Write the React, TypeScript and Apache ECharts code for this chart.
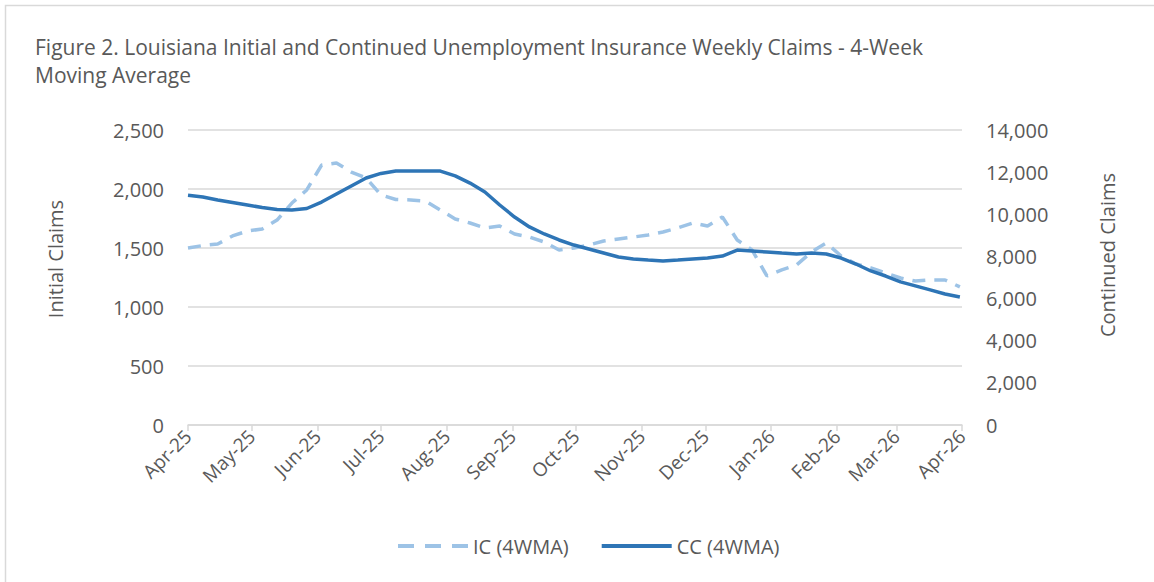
import React, { useEffect, useRef } from "react";
import * as echarts from "echarts";

// Weekly 4-week moving averages, first week ending 2025-04-05
const firstWeek = "2025-04-05";
const icValues = [
  1500, 1521, 1534, 1602, 1644, 1661, 1737, 1881, 1992, 2203, 2220, 2144, 2093, 1949,
  1911, 1907, 1898, 1822, 1746, 1712, 1670, 1686, 1619, 1593, 1551, 1483, 1500, 1525,
  1559, 1576, 1593, 1610, 1636, 1670, 1712, 1686, 1763, 1568, 1483, 1263, 1314, 1356,
  1466, 1542, 1432, 1364, 1331, 1288, 1246, 1220, 1229, 1229, 1170,
];
const ccValues = [
  10900, 10820, 10680, 10560, 10440, 10320, 10230, 10200, 10275, 10580, 10960, 11340,
  11720, 11940, 12050, 12055, 12055, 12050, 11820, 11480, 11060, 10440, 9870, 9400,
  9065, 8780, 8540, 8350, 8160, 7970, 7880, 7830, 7785, 7830, 7880, 7925, 8020, 8300,
  8260, 8210, 8160, 8115, 8160, 8115, 7925, 7640, 7310, 7070, 6790, 6600, 6410, 6220,
  6075,
];
const leftTicks = { min: 0, max: 2500, interval: 500 };
const rightTicks = { min: 0, max: 14000, interval: 2000 };
const monthNames = ["Jan", "Feb", "Mar", "Apr", "May", "Jun", "Jul", "Aug", "Sep", "Oct", "Nov", "Dec"];
const seriesNames = ["IC (4WMA)", "CC (4WMA)"];
const titleText =
  "Figure 2. Louisiana Initial and Continued Unemployment Insurance Weekly Claims - 4-Week\nMoving Average";

const DAY = 86400000;
const pad = (n: number) => (n < 10 ? "0" + n : "" + n);
const fmt = (t: number) => {
  const d = new Date(t);
  return `${d.getUTCFullYear()}-${pad(d.getUTCMonth() + 1)}-${pad(d.getUTCDate())}`;
};
const startMs = Date.parse(firstWeek + "T00:00:00Z");
const axisDays = Array.from({ length: 366 }, (_, i) => fmt(startMs + i * DAY));
const weekDates = icValues.map((_, k) => fmt(startMs + 7 * k * DAY));
const tickDay = firstWeek.slice(8);

const FONT = "'Open Sans', 'Noto Sans', sans-serif";
const GREY = "#595959";
const DASH_ICON = "path://M0,0h16v4H0z M27,0h16v4H27z M54,0h16v4H54z";
const SOLID_ICON = "path://M0,0h70v4H0z";

export default function App() {
  const ref = useRef<HTMLDivElement>(null);
  useEffect(() => {
    document.body.style.margin = "0";
    const chart = echarts.init(ref.current!, null, { renderer: "svg" });
    const isTick = (_i: number, v: string) => v.slice(8) === tickDay;
    chart.setOption({
      animation: false,
      backgroundColor: "#ffffff",
      textStyle: { fontFamily: FONT },
      title: {
        text: titleText,
        left: 30,
        top: 28,
        textStyle: { fontSize: 21, fontWeight: "normal", color: GREY, lineHeight: 28, fontFamily: FONT },
      },
      graphic: [
        {
          type: "rect",
          shape: { x: 5.5, y: 5.5, width: 1300, height: 800 },
          style: { fill: "none", stroke: "#d9d9d9", lineWidth: 1.5 },
          silent: true,
        },
        {
          type: "text",
          x: 55,
          y: 259,
          rotation: Math.PI / 2,
          style: { text: "Initial Claims", fontSize: 20, fontFamily: FONT, fill: GREY, align: "center", verticalAlign: "middle" },
        },
        {
          type: "text",
          x: 1107,
          y: 255,
          rotation: Math.PI / 2,
          style: { text: "Continued Claims", fontSize: 20, fontFamily: FONT, fill: GREY, align: "center", verticalAlign: "middle" },
        },
      ],
      legend: {
        data: [
          { name: seriesNames[0], icon: DASH_ICON },
          { name: seriesNames[1], icon: SOLID_ICON },
        ],
        left: 393,
        top: 531,
        itemWidth: 70,
        itemHeight: 4,
        itemGap: 33,
        textStyle: { fontSize: 20, color: GREY, fontFamily: FONT },
      },
      grid: { left: 188, right: 192, top: 130, bottom: 157, containLabel: false },
      xAxis: {
        type: "category",
        data: axisDays,
        boundaryGap: false,
        axisLine: { lineStyle: { color: "#d9d9d9", width: 1.5 } },
        axisTick: { interval: isTick, length: 6, lineStyle: { color: "#d9d9d9", width: 1.5 } },
        axisLabel: {
          interval: isTick,
          rotate: 45,
          margin: 8,
          fontSize: 19,
          color: GREY,
          fontFamily: FONT,
          formatter: (v: string) => monthNames[parseInt(v.slice(5, 7), 10) - 1] + "-" + v.slice(2, 4),
        },
        splitLine: { show: false },
      },
      yAxis: [
        {
          type: "value",
          ...leftTicks,
          axisLine: { show: false },
          axisTick: { show: false },
          axisLabel: {
            fontSize: 20,
            color: GREY,
            margin: 24,
            fontFamily: FONT,
            formatter: (v: number) => v.toLocaleString("en-US"),
          },
          splitLine: { lineStyle: { color: "#d9d9d9", width: 1.5 } },
        },
        {
          type: "value",
          ...rightTicks,
          axisLine: { show: false },
          axisTick: { show: false },
          axisLabel: {
            fontSize: 20,
            color: GREY,
            margin: 24,
            fontFamily: FONT,
            formatter: (v: number) => v.toLocaleString("en-US"),
          },
          splitLine: { show: false },
        },
      ],
      series: [
        {
          name: seriesNames[0],
          type: "line",
          yAxisIndex: 0,
          symbol: "none",
          data: weekDates.map((d, i) => [d, icValues[i]]),
          lineStyle: { color: "#9dc3e6", width: 3.5, type: [13, 9], cap: "butt" },
          itemStyle: { color: "#9dc3e6" },
        },
        {
          name: seriesNames[1],
          type: "line",
          yAxisIndex: 1,
          symbol: "none",
          data: weekDates.map((d, i) => [d, ccValues[i]]),
          lineStyle: { color: "#2e75b6", width: 3.5 },
          itemStyle: { color: "#2e75b6" },
        },
      ],
    });
    return () => chart.dispose();
  }, []);
  return <div ref={ref} style={{ width: 1154, height: 582 }} />;
}
